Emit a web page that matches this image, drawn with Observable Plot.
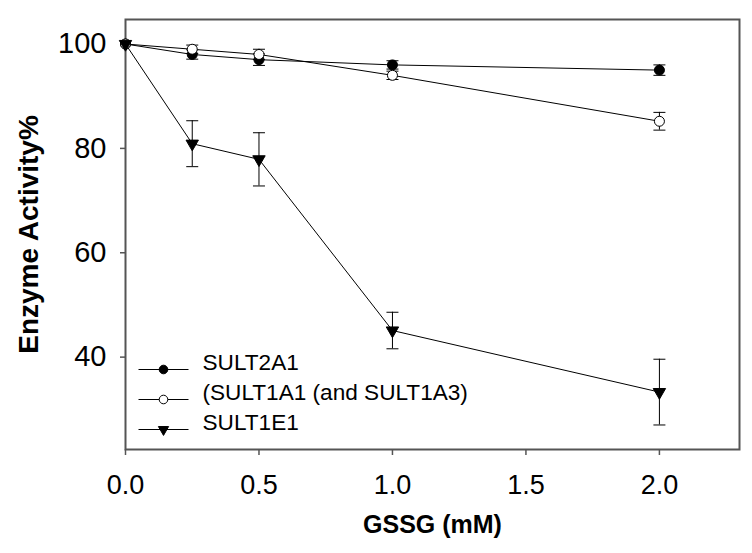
<!DOCTYPE html>
<html><head><meta charset="utf-8">
<script src="https://cdn.jsdelivr.net/npm/d3@7"></script>
<script src="https://cdn.jsdelivr.net/npm/@observablehq/plot@0.6"></script>
<style>body{margin:0;background:#fff}</style>
</head><body><div id="chart"></div>
<script>
// ---- data ----
const gssg = [0, 0.25, 0.5, 1.0, 2.0];
const seriesNames = ["SULT2A1", "(SULT1A1 (and SULT1A3)", "SULT1E1"];
const sult2a1 = [100, 98, 97, 96, 95];
const sult2a1Err = [0, 0.9, 1.1, 0.8, 1.0];
const sult1a1 = [100, 99, 98, 94, 85.2];
const sult1a1Err = [0, 0.8, 1.0, 0.8, 1.7];
const sult1e1 = [100, 80.9, 77.9, 45.1, 33.3];
const sult1e1Err = [0, 4.4, 5.1, 3.5, 6.3];
const xTicks = [0, 0.5, 1.0, 1.5, 2.0];
const yTicks = [40, 60, 80, 100];

// ---- table ----
const seriesValues = [sult2a1, sult1a1, sult1e1];
const seriesErrs = [sult2a1Err, sult1a1Err, sult1e1Err];
const rows = [];
seriesNames.forEach((name, i) => {
  gssg.forEach((x, j) => rows.push({series: name, idx: i, x, y: seriesValues[i][j], e: seriesErrs[i][j]}));
});
const errRows = rows.filter(d => d.e > 0);
const caps = errRows.flatMap(d => [{x: d.x, y: d.y - d.e}, {x: d.x, y: d.y + d.e}]);

const capSymbol = {draw(ctx) { ctx.moveTo(-6, 0); ctx.lineTo(6, 0); }};
const legendLine = {draw(ctx) { ctx.moveTo(-25, 0); ctx.lineTo(25, 0); }};

const markerStyle = [
  {symbol: "circle", fill: "black", stroke: "black", r: 5},
  {symbol: "circle", fill: "white", stroke: "black", r: 5},
  {symbol: "triangle", fill: "black", stroke: "black", r: 4.6, rotate: 180}
];
const legendMarker = [
  {symbol: "circle", fill: "black", stroke: "black", r: 4.3},
  {symbol: "circle", fill: "white", stroke: "black", r: 4.3},
  {symbol: "triangle", fill: "black", stroke: "black", r: 3.8, rotate: 180}
];
const legendRowsDy = [-80, -50, -20];

const marks = [
  Plot.frame({stroke: "#555", strokeWidth: 2}),
  Plot.axisX(xTicks, {tickSize: 6, tickPadding: 19, fontSize: 27, tickFormat: d3.format(".1f"), stroke: "#555", strokeWidth: 1.5, label: null}),
  Plot.axisY(yTicks, {tickSize: 5, tickPadding: 14, fontSize: 29, stroke: "#555", strokeWidth: 1.5, label: null}),
  Plot.line(rows, {x: "x", y: "y", z: "series", stroke: "black", strokeWidth: 1}),
  Plot.ruleX(errRows, {x: "x", y1: d => d.y - d.e, y2: d => d.y + d.e, stroke: "black", strokeWidth: 1}),
  Plot.dot(caps, {x: "x", y: "y", symbol: capSymbol, stroke: "black", fill: "none", strokeWidth: 1}),
  ...[0, 1, 2].map(i => Plot.dot(rows.filter(d => d.idx === i), {x: "x", y: "y", strokeWidth: 1, ...markerStyle[i]})),
  Plot.text(["Enzyme Activity%"], {text: d => d, frameAnchor: "left", textAnchor: "middle", dx: -96, rotate: -90, fontSize: 28, fontWeight: "bold", fill: "black"}),
  Plot.text(["GSSG (mM)"], {text: d => d, frameAnchor: "bottom", dy: 83, fontSize: 25, fontWeight: "bold", fill: "black"}),
  ...[0, 1, 2].flatMap(i => [
    Plot.dot([seriesNames[i]], {frameAnchor: "bottom-left", dx: 38, dy: legendRowsDy[i], symbol: legendLine, stroke: "black", fill: "none", strokeWidth: 1}),
    Plot.dot([seriesNames[i]], {frameAnchor: "bottom-left", dx: 38, dy: legendRowsDy[i], strokeWidth: 1, ...legendMarker[i]}),
    Plot.text([seriesNames[i]], {text: d => d, frameAnchor: "bottom-left", dx: 77, dy: legendRowsDy[i], textAnchor: "start", fontSize: 22.6, fill: "black"})
  ])
];

const chart = Plot.plot({
  width: 752, height: 553,
  marginLeft: 125, marginRight: 13, marginTop: 19, marginBottom: 104,
  x: {domain: [0, 2.3]},
  y: {domain: [22.3, 104.7]},
  style: {fontFamily: "'Liberation Sans', Arial, sans-serif", background: "white", color: "black", overflow: "visible"},
  marks
});
document.getElementById("chart").appendChild(chart);
</script>
</body></html>
